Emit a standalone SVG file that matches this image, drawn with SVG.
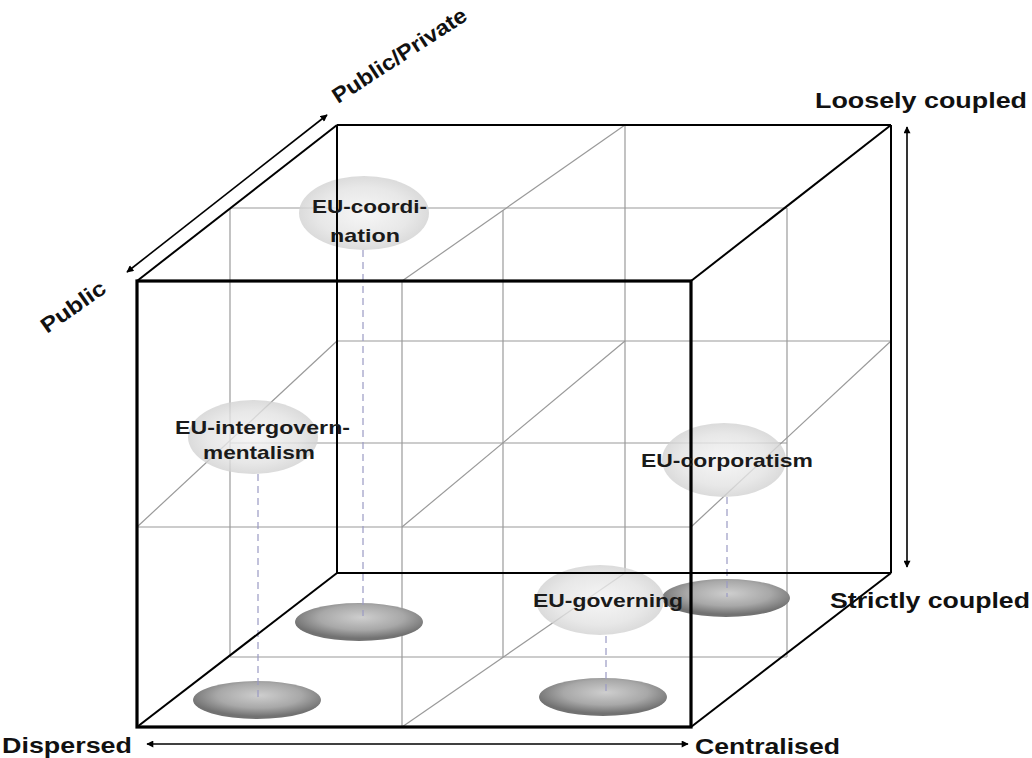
<svg xmlns="http://www.w3.org/2000/svg" width="1032" height="758" viewBox="0 0 1032 758">
<style>
.grid{stroke:#9a9a9a;stroke-width:1.2;fill:none}
.edge{stroke:#000;stroke-width:2;fill:none}
.front{stroke:#000;stroke-width:3.2;fill:none}
.dash{stroke:#9a9ac4;stroke-width:1.2;stroke-dasharray:7 5;fill:none}
.axis{stroke:#000;stroke-width:1.6;fill:none}
.lbl{font-family:"Liberation Sans",Arial,sans-serif;font-weight:bold;font-size:21.5px;fill:#111}
.nl{font-family:"Liberation Sans",Arial,sans-serif;font-weight:bold;font-size:19px;fill:#1a1a1a}
.light{fill:url(#gl);fill-opacity:0.8}
.dark{fill:url(#gd)}
</style>
<defs>
<radialGradient id="gl" cx="50%" cy="50%" r="50%">
<stop offset="0" stop-color="#f4f4f4"/>
<stop offset="0.7" stop-color="#e2e2e2"/>
<stop offset="1" stop-color="#d2d2d2"/>
</radialGradient>
<radialGradient id="gd" cx="52%" cy="38%" r="55%">
<stop offset="0" stop-color="#cecece"/>
<stop offset="0.6" stop-color="#a8a8a8"/>
<stop offset="1" stop-color="#727272"/>
</radialGradient>
<marker id="ah" viewBox="0 0 10 10" refX="9" refY="5" markerWidth="8" markerHeight="7" orient="auto-start-reverse" markerUnits="userSpaceOnUse">
<path d="M0,0 L10,5 L0,10 z" fill="#000"/>
</marker>
</defs>
<rect width="1032" height="758" fill="#fff"/>

<g id="grid">
<line class="grid" x1="402" y1="281" x2="402" y2="727"/>
<line class="grid" x1="137" y1="527" x2="691" y2="527"/>
<line class="grid" x1="625" y1="125" x2="625" y2="573"/>
<line class="grid" x1="337" y1="341" x2="891" y2="341"/>
<line class="grid" x1="230" y1="208" x2="230" y2="657"/>
<line class="grid" x1="230" y1="208" x2="787" y2="208"/>
<line class="grid" x1="787" y1="208" x2="787" y2="657"/>
<line class="grid" x1="230" y1="657" x2="787" y2="657"/>
<line class="grid" x1="503" y1="210" x2="503" y2="657"/>
<line class="grid" x1="230" y1="443" x2="787" y2="443"/>
<line class="grid" x1="402" y1="281" x2="625" y2="125"/>
<line class="grid" x1="402" y1="727" x2="625" y2="573"/>
<line class="grid" x1="137" y1="527" x2="337" y2="341"/>
<line class="grid" x1="402" y1="527" x2="625" y2="341"/>
<line class="grid" x1="691" y1="527" x2="891" y2="341"/>
</g>

<g id="shadows">
<ellipse class="dark" cx="359" cy="622" rx="64" ry="19"/>
<ellipse class="dark" cx="257" cy="700" rx="64" ry="19"/>
<ellipse class="dark" cx="726" cy="598" rx="64" ry="19"/>
<ellipse class="dark" cx="603" cy="697" rx="64" ry="19"/>
</g>

<g id="connectors">
<line class="dash" x1="363" y1="250" x2="363" y2="616"/>
<line class="dash" x1="258" y1="474" x2="258" y2="698"/>
<line class="dash" x1="727" y1="497" x2="727" y2="597"/>
<line class="dash" x1="606" y1="636" x2="606" y2="695"/>
<line class="axis" x1="127" y1="272" x2="327" y2="115" marker-start="url(#ah)" marker-end="url(#ah)"/>
<line class="axis" x1="147" y1="744" x2="688" y2="744" marker-start="url(#ah)" marker-end="url(#ah)"/>
<line class="axis" x1="907" y1="127" x2="907" y2="567" marker-start="url(#ah)" marker-end="url(#ah)"/>
</g>

<g id="node-coordination">
<ellipse class="light" cx="364" cy="213" rx="65" ry="37"/>
</g>
<g id="node-intergovernmentalism">
<ellipse class="light" cx="253" cy="437" rx="65" ry="37"/>
</g>
<g id="node-corporatism">
<ellipse class="light" cx="724" cy="460" rx="62" ry="37"/>
</g>
<g id="node-governing">
<ellipse class="light" cx="600" cy="600" rx="64" ry="35"/>
</g>

<g id="box">
<line class="edge" x1="337" y1="125" x2="891" y2="125"/>
<line class="edge" x1="337" y1="125" x2="337" y2="573"/>
<line class="edge" x1="891" y1="125" x2="891" y2="573"/>
<line class="edge" x1="337" y1="573" x2="891" y2="573"/>
<line class="edge" x1="137" y1="281" x2="337" y2="125"/>
<line class="edge" x1="691" y1="281" x2="891" y2="125"/>
<line class="edge" x1="691" y1="727" x2="891" y2="573"/>
<line class="edge" x1="137" y1="727" x2="337" y2="573"/>
<rect class="front" x="137" y="281" width="554" height="446"/>
</g>

<g id="labels">
<text class="nl" x="312" y="213" textLength="115" lengthAdjust="spacingAndGlyphs">EU-coordi-</text>
<text class="nl" x="330" y="242" textLength="70" lengthAdjust="spacingAndGlyphs">nation</text>
<text class="nl" x="175" y="434" textLength="175" lengthAdjust="spacingAndGlyphs">EU-intergovern-</text>
<text class="nl" x="203" y="459" textLength="112" lengthAdjust="spacingAndGlyphs">mentalism</text>
<text class="nl" x="641" y="467" textLength="172" lengthAdjust="spacingAndGlyphs">EU-corporatism</text>
<text class="nl" x="533" y="607" textLength="150" lengthAdjust="spacingAndGlyphs">EU-governing</text>
<text class="lbl" x="815" y="108" textLength="212" lengthAdjust="spacingAndGlyphs">Loosely coupled</text>
<text class="lbl" x="830" y="608" textLength="200" lengthAdjust="spacingAndGlyphs">Strictly coupled</text>
<text class="lbl" x="2" y="753" textLength="130" lengthAdjust="spacingAndGlyphs">Dispersed</text>
<text class="lbl" x="695" y="754" textLength="145" lengthAdjust="spacingAndGlyphs">Centralised</text>
<text class="lbl" transform="translate(47,334) rotate(-35)" textLength="74" lengthAdjust="spacingAndGlyphs">Public</text>
<text class="lbl" transform="translate(338,104) rotate(-33)" textLength="156" lengthAdjust="spacingAndGlyphs">Public/Private</text>
</g>
</svg>
